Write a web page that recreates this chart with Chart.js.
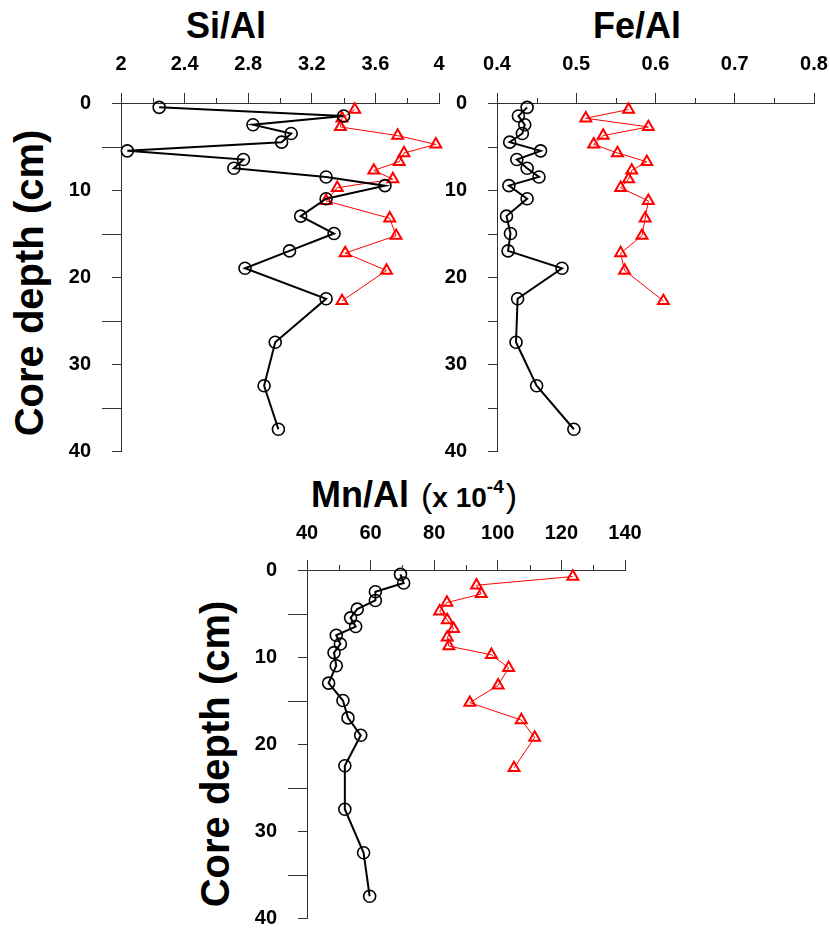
<!DOCTYPE html>
<html><head><meta charset="utf-8">
<script src="https://cdn.jsdelivr.net/npm/chart.js@4.4.0/dist/chart.umd.min.js"></script>
<style>
html,body{margin:0;padding:0;background:#fff;}
body{width:830px;height:929px;position:relative;overflow:hidden;font-family:"Liberation Sans",Arial,Helvetica,sans-serif;}
canvas{position:absolute;}
.t{position:absolute;font-weight:bold;white-space:nowrap;color:#000;}
.yt{position:absolute;font-weight:bold;white-space:nowrap;color:#000;width:340px;height:40px;line-height:40px;font-size:40px;text-align:center;transform:rotate(-90deg);}
</style></head><body>
<div class="t" style="left:126px;top:8px;width:200px;text-align:center;font-size:36px;line-height:36px;">Si/Al</div>
<div class="t" style="left:537px;top:8px;width:200px;text-align:center;font-size:36px;line-height:36px;">Fe/Al</div>
<div class="t" style="left:311px;top:477px;font-size:36px;line-height:36px;">Mn/Al <span style="font-weight:normal;font-size:34px;margin-left:2px;">(</span><span style="font-size:28px;">x 10</span><span style="font-size:19px;position:relative;top:-14px;">-4</span><span style="font-weight:normal;font-size:34px;margin-left:2px;">)</span></div>
<div class="yt" style="left:-141px;top:263px;">Core depth (cm)</div>
<div class="yt" style="left:45px;top:734px;">Core depth (cm)</div>
<canvas id="c1" width="463" height="485" style="left:0;top:0;"></canvas>
<canvas id="c2" width="406" height="485" style="left:440px;top:0;"></canvas>
<canvas id="c3" width="420" height="482" style="left:240px;top:470px;"></canvas>
<script>
// ---- data ----
const depthBlack = [0.5,1.5,2.5,3.5,4.5,5.5,6.5,7.5,8.5,9.5,11,13,15,17,19,22.5,27.5,32.5,37.5];
const depthRed   = [0.75,1.75,2.75,3.75,4.75,5.75,6.75,7.75,8.75,9.75,11.25,13.25,15.25,17.25,19.25,22.75];

const siBlack = [2.24,3.40,2.83,3.07,3.01,2.04,2.77,2.71,3.29,3.66,3.29,3.13,3.34,3.06,2.78,3.29,2.97,2.90,2.99];
const siRed   = [3.47,3.39,3.38,3.74,3.98,3.78,3.75,3.59,3.71,3.36,3.29,3.69,3.73,3.41,3.67,3.39];

const feBlack = [0.438,0.427,0.435,0.432,0.416,0.455,0.425,0.438,0.453,0.415,0.438,0.412,0.417,0.414,0.482,0.426,0.424,0.450,0.497];
const feRed   = [0.566,0.512,0.591,0.534,0.522,0.552,0.589,0.570,0.566,0.556,0.591,0.587,0.583,0.556,0.561,0.610];

const mnBlack = [69.4,70.4,61.5,61.5,55.8,53.7,55.3,49.2,50.5,48.5,49.2,46.8,51.3,52.9,56.9,51.9,51.9,57.8,59.7];
const mnRed   = [123.6,93.3,94.8,84.0,81.7,84.1,86.1,84.1,84.6,98.0,103.4,100.1,91.2,107.4,111.6,105.1];

// ---- ticks ----
const siTicks = [2,2.4,2.8,3.2,3.6,4];
const siTickLabels = ['2','2.4','2.8','3.2','3.6','4'];
const siMinor = [2.2,2.6,3.0,3.4,3.8];
const feTicks = [0.4,0.5,0.6,0.7,0.8];
const feTickLabels = ['0.4','0.5','0.6','0.7','0.8'];
const feMinor = [0.45,0.55,0.65,0.75];
const mnTicks = [40,60,80,100,120,140];
const mnTickLabels = ['40','60','80','100','120','140'];
const mnMinor = [50,70,90,110,130];
const depthTicks = [0,10,20,30,40];
const depthTickLabels = ['0','10','20','30','40'];
const depthMinor = [5,15,25,35];

const FONT = '"Liberation Sans", Arial, Helvetica, sans-serif';
const AX = '#333';

const minorTicks = {
  id: 'minorTicks',
  afterDraw(chart, args, o) {
    const ctx = chart.ctx, xs = chart.scales.x, ys = chart.scales.y, ca = chart.chartArea;
    ctx.save();
    ctx.strokeStyle = AX; ctx.lineWidth = 1;
    ctx.beginPath();
    o.x.forEach(v => { const p = Math.round(xs.getPixelForValue(v)) + 0.5; ctx.moveTo(p, Math.round(ca.top)); ctx.lineTo(p, Math.round(ca.top) - o.xLen); });
    o.y.forEach(v => { const p = Math.round(ys.getPixelForValue(v)) + 0.5; ctx.moveTo(Math.round(ca.left), p); ctx.lineTo(Math.round(ca.left) - o.yLen, p); });
    ctx.stroke();
    ctx.restore();
  }
};

function pts(xs, ys) { return xs.map((v, i) => ({x: v, y: ys[i]})); }

function makeChart(id, p) {
  new Chart(document.getElementById(id), {
    type: 'scatter',
    data: {
      datasets: [
        {data: pts(p.black, depthBlack), showLine: true, borderColor: '#000', borderWidth: 2,
         pointStyle: 'circle', pointRadius: 6, pointBorderWidth: 1.6, pointBorderColor: '#000',
         pointBackgroundColor: 'rgba(0,0,0,0)', tension: 0, clip: false},
        {data: pts(p.red, depthRed), showLine: true, borderColor: '#ff0000', borderWidth: 1,
         pointStyle: 'triangle', pointRadius: 6.3, pointBorderWidth: 2, pointBorderColor: '#ff0000',
         pointBackgroundColor: 'rgba(0,0,0,0)', tension: 0, clip: false}
      ]
    },
    options: {
      responsive: false, animation: false, events: [],
      layout: {padding: {left: 0, top: 0, right: p.padR, bottom: p.padB}},
      plugins: {legend: {display: false}, tooltip: {enabled: false}, title: {display: false},
        minorTicks: {x: p.minor, xLen: 5, y: depthMinor, yLen: p.yLen}},
      scales: {
        x: {
          type: 'linear', position: 'top', min: p.min, max: p.max,
          afterBuildTicks: s => { s.ticks = p.ticks.map(v => ({value: v})); },
          afterFit: s => { s.height = p.xH; },
          ticks: {callback: (v, i) => p.labels[i], font: {family: FONT, size: 20, weight: 'bold'},
                  color: '#000', padding: p.xPad, autoSkip: false, maxRotation: 0, minRotation: 0},
          grid: {drawOnChartArea: false, drawTicks: true, tickLength: 10, tickColor: AX, tickWidth: 1},
          border: {display: true, color: AX, width: 1}
        },
        y: {
          type: 'linear', position: 'left', reverse: true, min: 0, max: 40,
          afterBuildTicks: s => { s.ticks = depthTicks.map(v => ({value: v})); },
          afterFit: s => { s.width = p.yW; },
          ticks: {callback: (v, i) => depthTickLabels[i], font: {family: FONT, size: 20, weight: 'bold'},
                  color: '#000', padding: 21, autoSkip: false},
          grid: {drawOnChartArea: false, drawTicks: true, tickLength: 9, tickColor: AX, tickWidth: 1},
          border: {display: true, color: AX, width: 1}
        }
      }
    },
    plugins: [minorTicks]
  });
}

makeChart('c1', {black: siBlack, red: siRed, min: 2, max: 4, ticks: siTicks, labels: siTickLabels, minor: siMinor,
  xH: 103, yW: 121, padR: 24, padB: 34, xPad: 17, yLen: 19});
makeChart('c2', {black: feBlack, red: feRed, min: 0.4, max: 0.8, ticks: feTicks, labels: feTickLabels, minor: feMinor,
  xH: 103, yW: 57, padR: 32, padB: 34, xPad: 17, yLen: 9});
makeChart('c3', {black: mnBlack, red: mnRed, min: 40, max: 140, ticks: mnTicks, labels: mnTickLabels, minor: mnMinor,
  xH: 100, yW: 67, padR: 35, padB: 34, xPad: 15, yLen: 19});
</script>
</body></html>
